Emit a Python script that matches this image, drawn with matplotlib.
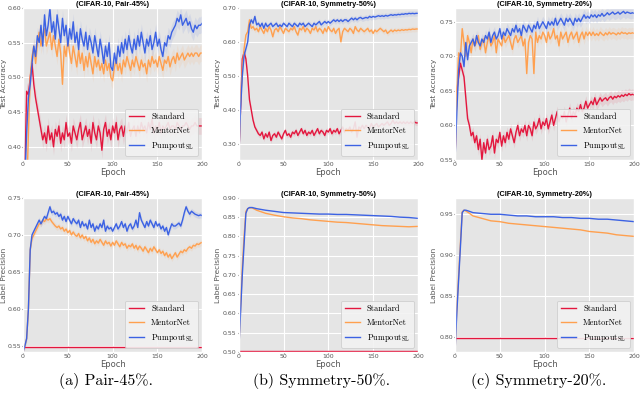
import numpy as np
import matplotlib
matplotlib.use("Agg")
import matplotlib.pyplot as plt
from matplotlib.ticker import FormatStrFormatter

# epochs sampled every 2 epochs for the noisy curves
EPOCHS = np.arange(0, 201, 2)
# coarser epochs for the smooth label-precision curves
SMOOTH_EPOCHS = [0, 2, 4, 6, 8, 10, 12, 15, 20, 30, 40, 50, 60, 70, 80, 90,
                 100, 110, 120, 130, 140, 150, 160, 170, 180, 190, 200]

SERIES = ["Standard", "MentorNet", "Pumpout$_{\\rm SL}$"]

# (CIFAR-10, Pair-45%) test accuracy
P45_ACC_STANDARD = [
    0.30, 0.36, 0.48, 0.475, 0.50, 0.52, 0.49, 0.47, 0.455, 0.44,
    0.425, 0.41, 0.42, 0.405, 0.43, 0.41, 0.42, 0.40, 0.425, 0.415,
    0.43, 0.405, 0.42, 0.41, 0.435, 0.415, 0.42, 0.405, 0.43, 0.42,
    0.41, 0.425, 0.435, 0.41, 0.42, 0.43, 0.415, 0.425, 0.405, 0.435,
    0.42, 0.41, 0.43, 0.42, 0.395, 0.425, 0.435, 0.415, 0.425, 0.41,
    0.43, 0.42, 0.435, 0.41, 0.425, 0.43, 0.415, 0.43, 0.42, 0.435,
    0.415, 0.425, 0.43, 0.415, 0.43, 0.42, 0.435, 0.425, 0.43, 0.42,
    0.435, 0.425, 0.44, 0.42, 0.43, 0.425, 0.435, 0.42, 0.43, 0.425,
    0.43, 0.435, 0.425, 0.43, 0.43, 0.425, 0.435, 0.43, 0.425, 0.43,
    0.43, 0.435, 0.43, 0.425, 0.43, 0.43, 0.435, 0.43, 0.43, 0.43,
    0.43]
P45_ACC_MENTORNET = [
    0.30, 0.30, 0.33, 0.42, 0.50, 0.53, 0.545, 0.52, 0.55, 0.565,
    0.545, 0.56, 0.57, 0.545, 0.555, 0.565, 0.54, 0.56, 0.545, 0.53,
    0.555, 0.535, 0.49, 0.545, 0.53, 0.555, 0.535, 0.52, 0.545, 0.53,
    0.515, 0.54, 0.52, 0.535, 0.51, 0.53, 0.515, 0.535, 0.52, 0.505,
    0.53, 0.515, 0.525, 0.51, 0.52, 0.505, 0.525, 0.51, 0.52, 0.50,
    0.495, 0.515, 0.525, 0.51, 0.52, 0.505, 0.525, 0.515, 0.53, 0.52,
    0.51, 0.525, 0.515, 0.53, 0.52, 0.51, 0.525, 0.515, 0.52, 0.505,
    0.525, 0.515, 0.53, 0.52, 0.525, 0.515, 0.53, 0.52, 0.51, 0.525,
    0.52, 0.53, 0.515, 0.525, 0.53, 0.52, 0.535, 0.525, 0.53, 0.535,
    0.525, 0.53, 0.535, 0.53, 0.535, 0.53, 0.535, 0.535, 0.53, 0.535,
    0.535]
P45_ACC_PUMPOUT = [
    0.30, 0.35, 0.42, 0.47, 0.49, 0.52, 0.545, 0.53, 0.56, 0.55,
    0.575, 0.545, 0.59, 0.56, 0.575, 0.60, 0.565, 0.58, 0.555, 0.59,
    0.57, 0.55, 0.585, 0.56, 0.575, 0.545, 0.57, 0.555, 0.58, 0.55,
    0.565, 0.54, 0.57, 0.555, 0.545, 0.565, 0.54, 0.56, 0.55, 0.535,
    0.56, 0.545, 0.53, 0.555, 0.54, 0.52, 0.545, 0.53, 0.55, 0.515,
    0.51, 0.535, 0.52, 0.545, 0.53, 0.55, 0.535, 0.555, 0.54, 0.56,
    0.545, 0.535, 0.555, 0.54, 0.56, 0.545, 0.565, 0.55, 0.535, 0.555,
    0.545, 0.56, 0.54, 0.55, 0.565, 0.545, 0.555, 0.54, 0.53, 0.55,
    0.545, 0.56, 0.555, 0.565, 0.57, 0.575, 0.585, 0.58, 0.59, 0.575,
    0.58, 0.585, 0.575, 0.58, 0.57, 0.565, 0.575, 0.57, 0.575, 0.575,
    0.578]

# (CIFAR-10, Symmetry-50%) test accuracy
S50_ACC_STANDARD = [
    0.25, 0.40, 0.55, 0.57, 0.55, 0.50, 0.43, 0.40, 0.37, 0.35,
    0.34, 0.33, 0.325, 0.335, 0.315, 0.33, 0.32, 0.335, 0.31, 0.325,
    0.33, 0.32, 0.335, 0.325, 0.315, 0.33, 0.34, 0.325, 0.33, 0.32,
    0.335, 0.33, 0.34, 0.325, 0.335, 0.345, 0.33, 0.34, 0.325, 0.335,
    0.33, 0.34, 0.325, 0.335, 0.345, 0.33, 0.34, 0.335, 0.325, 0.34,
    0.335, 0.345, 0.33, 0.34, 0.335, 0.345, 0.33, 0.34, 0.35, 0.335,
    0.345, 0.34, 0.35, 0.335, 0.345, 0.365, 0.32, 0.35, 0.345, 0.355,
    0.345, 0.355, 0.35, 0.345, 0.36, 0.35, 0.355, 0.36, 0.35, 0.355,
    0.36, 0.355, 0.36, 0.365, 0.355, 0.36, 0.37, 0.36, 0.365, 0.36,
    0.365, 0.36, 0.365, 0.36, 0.365, 0.36, 0.365, 0.36, 0.365, 0.362,
    0.362]
S50_ACC_MENTORNET = [
    0.25, 0.42, 0.52, 0.58, 0.62, 0.63, 0.665, 0.64, 0.645, 0.635,
    0.64, 0.63, 0.645, 0.635, 0.625, 0.64, 0.63, 0.645, 0.635, 0.615,
    0.635, 0.64, 0.63, 0.645, 0.635, 0.625, 0.64, 0.635, 0.63, 0.64,
    0.635, 0.645, 0.63, 0.62, 0.64, 0.635, 0.645, 0.63, 0.64, 0.635,
    0.625, 0.64, 0.635, 0.645, 0.63, 0.64, 0.635, 0.625, 0.64, 0.63,
    0.645, 0.635, 0.63, 0.64, 0.625, 0.635, 0.64, 0.60, 0.63, 0.64,
    0.635, 0.63, 0.64, 0.635, 0.625, 0.645, 0.635, 0.63, 0.64, 0.635,
    0.63, 0.635, 0.64, 0.63, 0.635, 0.625, 0.635, 0.63, 0.635, 0.64,
    0.635, 0.63, 0.635, 0.625, 0.63, 0.635, 0.63, 0.635, 0.632, 0.635,
    0.633, 0.636, 0.634, 0.636, 0.635, 0.637, 0.636, 0.638, 0.637, 0.638,
    0.638]
S50_ACC_PUMPOUT = [
    0.25, 0.40, 0.50, 0.56, 0.58, 0.60, 0.65, 0.665, 0.655, 0.675,
    0.65, 0.655, 0.645, 0.655, 0.64, 0.655, 0.645, 0.65, 0.655, 0.645,
    0.65, 0.655, 0.645, 0.65, 0.645, 0.655, 0.65, 0.645, 0.655, 0.65,
    0.645, 0.655, 0.65, 0.645, 0.655, 0.65, 0.655, 0.645, 0.65, 0.655,
    0.65, 0.645, 0.655, 0.65, 0.655, 0.66, 0.65, 0.655, 0.66, 0.655,
    0.66, 0.655, 0.66, 0.665, 0.66, 0.665, 0.66, 0.665, 0.66, 0.665,
    0.665, 0.66, 0.665, 0.67, 0.665, 0.67, 0.665, 0.67, 0.672, 0.668,
    0.67, 0.672, 0.67, 0.675, 0.672, 0.675, 0.673, 0.675, 0.677, 0.675,
    0.677, 0.675, 0.678, 0.676, 0.678, 0.68, 0.678, 0.68, 0.679, 0.681,
    0.68, 0.682, 0.681, 0.683, 0.682, 0.684, 0.683, 0.684, 0.683, 0.684,
    0.684]

# (CIFAR-10, Symmetry-20%) test accuracy
S20_ACC_STANDARD = [
    0.55, 0.65, 0.67, 0.69, 0.68, 0.67, 0.64, 0.61, 0.60, 0.585,
    0.59, 0.575, 0.585, 0.565, 0.58, 0.55, 0.575, 0.56, 0.58, 0.565,
    0.57, 0.585, 0.56, 0.58, 0.575, 0.59, 0.57, 0.585, 0.575, 0.59,
    0.58, 0.595, 0.585, 0.575, 0.59, 0.60, 0.585, 0.595, 0.59, 0.60,
    0.585, 0.60, 0.595, 0.585, 0.605, 0.595, 0.60, 0.61, 0.595, 0.605,
    0.60, 0.61, 0.595, 0.605, 0.615, 0.60, 0.61, 0.62, 0.605, 0.615,
    0.61, 0.62, 0.605, 0.615, 0.625, 0.61, 0.62, 0.615, 0.625, 0.62,
    0.63, 0.62, 0.625, 0.635, 0.625, 0.63, 0.635, 0.63, 0.64, 0.63,
    0.635, 0.64, 0.635, 0.638, 0.64, 0.636, 0.64, 0.642, 0.638, 0.642,
    0.64, 0.643, 0.641, 0.644, 0.642, 0.645, 0.643, 0.646, 0.644, 0.645,
    0.644]
S20_ACC_MENTORNET = [
    0.55, 0.65, 0.705, 0.70, 0.74, 0.72, 0.70, 0.73, 0.72, 0.705,
    0.725, 0.715, 0.72, 0.73, 0.71, 0.72, 0.725, 0.705, 0.72, 0.73,
    0.715, 0.72, 0.73, 0.705, 0.725, 0.72, 0.715, 0.73, 0.72, 0.725,
    0.73, 0.72, 0.71, 0.725, 0.73, 0.72, 0.725, 0.73, 0.715, 0.725,
    0.675, 0.72, 0.73, 0.725, 0.675, 0.735, 0.72, 0.73, 0.725, 0.735,
    0.73, 0.72, 0.735, 0.725, 0.73, 0.74, 0.725, 0.73, 0.715, 0.735,
    0.725, 0.73, 0.735, 0.72, 0.73, 0.735, 0.725, 0.73, 0.735, 0.72,
    0.73, 0.735, 0.725, 0.735, 0.73, 0.735, 0.73, 0.735, 0.73, 0.733,
    0.73, 0.735, 0.732, 0.73, 0.734, 0.731, 0.735, 0.732, 0.734, 0.733,
    0.731, 0.734, 0.732, 0.735, 0.733, 0.734, 0.732, 0.734, 0.733, 0.734,
    0.733]
S20_ACC_PUMPOUT = [
    0.55, 0.62, 0.68, 0.705, 0.70, 0.685, 0.72, 0.695, 0.715, 0.72,
    0.725, 0.715, 0.73, 0.72, 0.715, 0.725, 0.72, 0.73, 0.725, 0.735,
    0.72, 0.73, 0.735, 0.725, 0.73, 0.74, 0.725, 0.735, 0.73, 0.74,
    0.735, 0.73, 0.74, 0.735, 0.745, 0.735, 0.74, 0.73, 0.745, 0.74,
    0.735, 0.745, 0.74, 0.735, 0.745, 0.74, 0.75, 0.74, 0.745, 0.75,
    0.745, 0.74, 0.75, 0.745, 0.75, 0.745, 0.755, 0.745, 0.75, 0.755,
    0.75, 0.745, 0.755, 0.75, 0.755, 0.75, 0.745, 0.755, 0.75, 0.755,
    0.75, 0.755, 0.76, 0.755, 0.758, 0.755, 0.76, 0.757, 0.76, 0.756,
    0.76, 0.758, 0.762, 0.758, 0.76, 0.763, 0.76, 0.762, 0.764, 0.761,
    0.762, 0.764, 0.761, 0.763, 0.765, 0.762, 0.764, 0.763, 0.762, 0.763,
    0.762]

# (CIFAR-10, Pair-45%) label precision
P45_PREC_STANDARD = 0.549
P45_PREC_MENTORNET = [
    0.542, 0.55, 0.56, 0.60, 0.68, 0.695, 0.70, 0.705, 0.71, 0.715,
    0.715, 0.72, 0.718, 0.722, 0.72, 0.722, 0.718, 0.715, 0.712, 0.71,
    0.712, 0.708, 0.71, 0.705, 0.708, 0.703, 0.706, 0.70, 0.704, 0.70,
    0.698, 0.702, 0.696, 0.70, 0.695, 0.698, 0.692, 0.696, 0.69, 0.694,
    0.688, 0.692, 0.689, 0.694, 0.69, 0.686, 0.692, 0.688, 0.69, 0.685,
    0.69, 0.686, 0.692, 0.688, 0.684, 0.69, 0.686, 0.688, 0.682, 0.686,
    0.684, 0.688, 0.682, 0.686, 0.68, 0.685, 0.682, 0.678, 0.684, 0.68,
    0.676, 0.682, 0.678, 0.684, 0.68, 0.676, 0.68, 0.675, 0.678, 0.672,
    0.676, 0.67, 0.674, 0.668, 0.672, 0.676, 0.67, 0.674, 0.678, 0.676,
    0.68, 0.678, 0.682, 0.684, 0.682, 0.686, 0.685, 0.688, 0.687, 0.689,
    0.69]
P45_PREC_PUMPOUT = [
    0.542, 0.55, 0.56, 0.60, 0.68, 0.70, 0.705, 0.71, 0.715, 0.72,
    0.715, 0.72, 0.725, 0.722, 0.73, 0.738, 0.73, 0.732, 0.728, 0.73,
    0.725, 0.728, 0.72, 0.725, 0.718, 0.725, 0.72, 0.715, 0.722, 0.718,
    0.715, 0.72, 0.71, 0.718, 0.712, 0.715, 0.708, 0.72, 0.71, 0.715,
    0.705, 0.712, 0.708, 0.715, 0.71, 0.72, 0.705, 0.712, 0.708, 0.71,
    0.705, 0.71, 0.715, 0.708, 0.712, 0.718, 0.71, 0.715, 0.705, 0.712,
    0.715, 0.708, 0.712, 0.72, 0.71, 0.73, 0.72, 0.715, 0.71, 0.718,
    0.712, 0.72, 0.715, 0.71, 0.718, 0.712, 0.715, 0.708, 0.712, 0.705,
    0.71, 0.70, 0.708, 0.715, 0.712, 0.712, 0.714, 0.716, 0.712, 0.72,
    0.73, 0.738, 0.732, 0.728, 0.732, 0.73, 0.728, 0.727, 0.726, 0.727,
    0.726]

# (CIFAR-10, Symmetry-50%) label precision
S50_PREC_STANDARD = 0.502
S50_PREC_MENTORNET = [0.50, 0.61, 0.72, 0.80, 0.865, 0.872, 0.874, 0.874, 0.868,
                      0.860, 0.855, 0.851, 0.848, 0.846, 0.843, 0.841, 0.839,
                      0.837, 0.836, 0.834, 0.832, 0.830, 0.828, 0.827, 0.826,
                      0.825, 0.826]
S50_PREC_PUMPOUT = [0.50, 0.60, 0.70, 0.78, 0.86, 0.872, 0.875, 0.875, 0.872,
                    0.868, 0.865, 0.862, 0.861, 0.860, 0.859, 0.858, 0.858,
                    0.857, 0.857, 0.856, 0.855, 0.854, 0.853, 0.852, 0.850,
                    0.849, 0.847]

# (CIFAR-10, Symmetry-20%) label precision
S20_PREC_STANDARD = 0.799
S20_PREC_MENTORNET = [0.782, 0.835, 0.875, 0.915, 0.953, 0.955, 0.954, 0.952,
                      0.948, 0.945, 0.942, 0.941, 0.939, 0.938, 0.937, 0.936,
                      0.935, 0.934, 0.933, 0.932, 0.931, 0.929, 0.928, 0.927,
                      0.925, 0.924, 0.923]
S20_PREC_PUMPOUT = [0.782, 0.83, 0.87, 0.91, 0.952, 0.955, 0.955, 0.954, 0.952,
                    0.951, 0.950, 0.950, 0.949, 0.948, 0.948, 0.947, 0.947,
                    0.947, 0.946, 0.946, 0.945, 0.945, 0.944, 0.944, 0.943,
                    0.942, 0.941]

TITLES = ["(CIFAR-10, Pair-45%)", "(CIFAR-10, Symmetry-50%)", "(CIFAR-10, Symmetry-20%)"]
CAPTIONS = ["(a) Pair-45%.", "(b) Symmetry-50%.", "(c) Symmetry-20%."]

COLORS = ["#e3173e", "#ffa04f", "#3c62e3"]

plt.style.use("ggplot")
plt.rcParams["mathtext.fontset"] = "cm"

fig = plt.figure(figsize=(6.4, 3.95), dpi=100)

lefts = [0.036, 0.373, 0.711]
label_x = [-0.089, -0.1, -0.1]
width = 0.280
top_row = (0.595, 0.385)
bottom_row = (0.109, 0.390)


def style_axes(ax, col, ylim, yticks, ylabel, title):
    ax.set_xlim(0, 200)
    ax.set_ylim(*ylim)
    ax.set_xticks([0, 50, 100, 150, 200])
    ax.set_yticks(yticks)
    ax.yaxis.set_major_formatter(FormatStrFormatter("%.2f"))
    ax.tick_params(labelsize=4.5, length=1.0, pad=0.5, colors="#555555")
    ax.set_xlabel("Epoch", fontsize=6, color="#555555", labelpad=1)
    ax.set_ylabel(ylabel, fontsize=5.3, color="#555555")
    ax.yaxis.set_label_coords(label_x[col], 0.5)
    ax.set_title(title, fontsize=5.3, fontweight="bold", color="black",
                 family="Liberation Sans", pad=0)
    ax.grid(True, color="white", linewidth=0.8)
    leg = ax.legend(loc="lower right", prop={"family": "cmr10", "size": 6},
                    handlelength=1.8, borderpad=0.5, labelspacing=0.6,
                    frameon=True, facecolor="#f2f2f2", edgecolor="#cccccc",
                    framealpha=0.9)
    leg.get_frame().set_linewidth(0.6)


def noisy_panel(ax, curves, band):
    for y, c, name in zip(curves, COLORS, SERIES):
        y = np.asarray(y)
        ax.fill_between(EPOCHS, y - band, y + band, color=c, alpha=0.1, linewidth=0)
        ax.plot(EPOCHS, y, color=c, linewidth=1.0, label=name)


def precision_panel(ax, standard, mentornet, pumpout, epochs, band):
    ax.axhline(standard, color=COLORS[0], linewidth=1.0, label=SERIES[0])
    for y, c, name in zip([mentornet, pumpout], COLORS[1:], SERIES[1:]):
        y = np.asarray(y)
        if band > 0:
            ax.fill_between(epochs, y - band, y + band, color=c, alpha=0.12, linewidth=0)
        ax.plot(epochs, y, color=c, linewidth=1.0, label=name)


# top row: test accuracy
acc_data = [
    (P45_ACC_STANDARD, P45_ACC_MENTORNET, P45_ACC_PUMPOUT),
    (S50_ACC_STANDARD, S50_ACC_MENTORNET, S50_ACC_PUMPOUT),
    (S20_ACC_STANDARD, S20_ACC_MENTORNET, S20_ACC_PUMPOUT),
]
acc_ylims = [(0.381, 0.60), (0.253, 0.70), (0.55, 0.77)]
acc_yticks = [np.arange(0.40, 0.601, 0.05), np.arange(0.30, 0.701, 0.10),
              np.arange(0.55, 0.751, 0.05)]
acc_bands = [0.012, 0.008, 0.008]

for i in range(3):
    ax = fig.add_axes([lefts[i], top_row[0], width, top_row[1]])
    noisy_panel(ax, acc_data[i], acc_bands[i])
    style_axes(ax, i, acc_ylims[i], acc_yticks[i], "Test Accuracy", TITLES[i])

# bottom row: label precision
ax = fig.add_axes([lefts[0], bottom_row[0], width, bottom_row[1]])
precision_panel(ax, P45_PREC_STANDARD, P45_PREC_MENTORNET, P45_PREC_PUMPOUT, EPOCHS, 0.004)
style_axes(ax, 0, (0.542, 0.75), np.arange(0.55, 0.751, 0.05), "Label Precision", TITLES[0])

ax = fig.add_axes([lefts[1], bottom_row[0], width, bottom_row[1]])
precision_panel(ax, S50_PREC_STANDARD, S50_PREC_MENTORNET, S50_PREC_PUMPOUT, SMOOTH_EPOCHS, 0)
style_axes(ax, 1, (0.50, 0.90), np.arange(0.50, 0.901, 0.05), "Label Precision", TITLES[1])

ax = fig.add_axes([lefts[2], bottom_row[0], width, bottom_row[1]])
precision_panel(ax, S20_PREC_STANDARD, S20_PREC_MENTORNET, S20_PREC_PUMPOUT, SMOOTH_EPOCHS, 0)
style_axes(ax, 2, (0.782, 0.97), np.arange(0.80, 0.951, 0.05), "Label Precision", TITLES[2])

# sub-figure captions
for i, cap in enumerate(CAPTIONS):
    fig.text(lefts[i] + width / 2 - 0.01, 0.035, cap, ha="center", va="center",
             fontsize=11.5, family="cmr10")

fig.savefig("out.png", dpi=100)
